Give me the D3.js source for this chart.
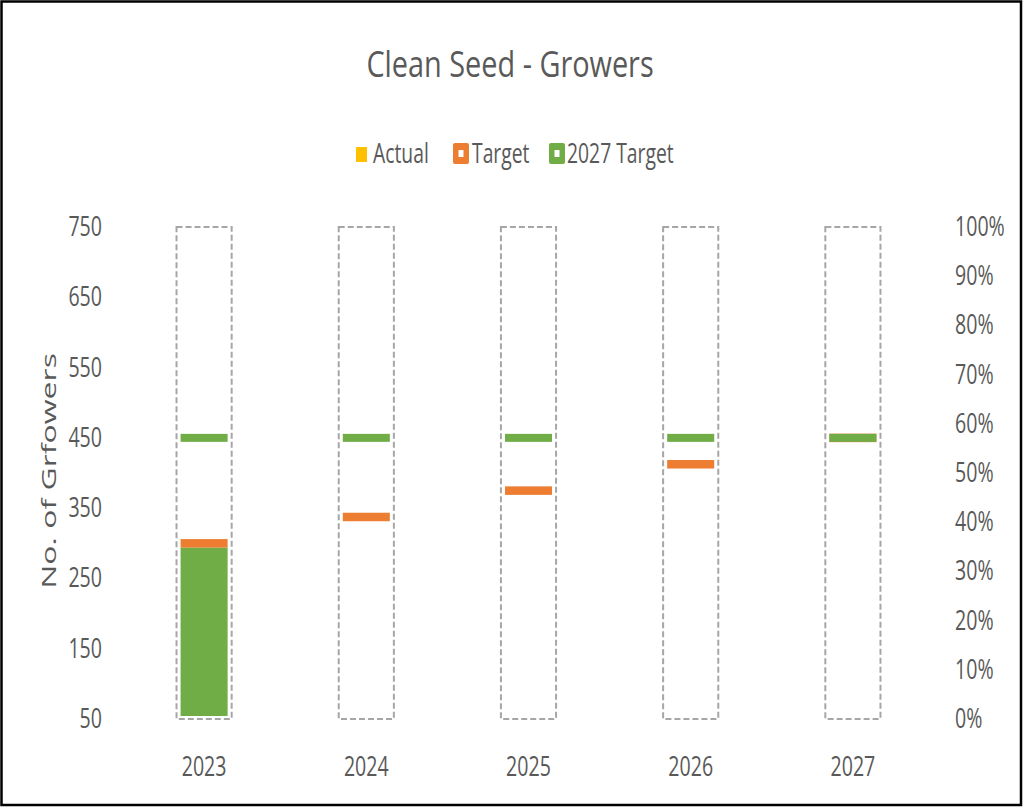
<!DOCTYPE html>
<html>
<head>
<meta charset="utf-8">
<script src="https://cdn.jsdelivr.net/npm/d3@7"></script>
<style>
  html, body { margin: 0; padding: 0; background: #fff; }
  svg { display: block; }
  text { font-family: "Open Sans", sans-serif; fill: #595959; }
</style>
</head>
<body>
<svg id="chart" width="1023" height="807"></svg>
<script>
// ---- data ----
const categories = ["2023", "2024", "2025", "2026", "2027"];
const actual = [294, null, null, null, null];
const target = [300, 337.5, 375, 412.5, 450];
const target2027 = [450, 450, 450, 450, 450];
const backdrop = [1, 1, 1, 1, 1];
const leftTicks = [50, 150, 250, 350, 450, 550, 650, 750];
const rightTicks = [0, 0.1, 0.2, 0.3, 0.4, 0.5, 0.6, 0.7, 0.8, 0.9, 1.0];
const legendItems = ["Actual", "Target", "2027 Target"];
const titleText = "Clean Seed - Growers";
const yTitleText = "No. of Grfowers";

// ---- layout ----
const W = 1023, H = 807;
const SX = 0.7; // horizontal text compression
const colors = { actual: "#FFC000", actualBar: "#70AD47", target: "#ED7D31", t2027: "#70AD47" };

const svg = d3.select("#chart");

svg.append("rect").attr("x", 1.5).attr("y", 1.5).attr("width", W - 3.5).attr("height", H - 3.5)
  .attr("fill", "#fff").attr("stroke", "#000").attr("stroke-width", 2.5);

const x = d3.scaleBand().domain(categories).range([123, 934]).padding(0);
const y = d3.scaleLinear().domain([50, 750]).range([719, 227]);
const y2 = d3.scaleLinear().domain([0, 1]).range([719, 227]);

const cx = c => x(c) + x.bandwidth() / 2;
const outerHalf = x.bandwidth() * 0.17;
const innerHalf = x.bandwidth() * 0.145;

function ctext(sel, tx, ty, str, size, anchor, sx) {
  return sel.append("text")
    .attr("transform", `translate(${tx},${ty}) scale(${sx || SX},1)`)
    .attr("text-anchor", anchor || "middle")
    .attr("font-size", size)
    .text(str);
}

// title
ctext(svg, 510, 77, titleText, 37, "middle", 0.78);

// legend
const lg = svg.append("g");
const lgX = [356, 453, 549];
const lgTextX = [373, 472, 567];
lg.append("rect").attr("x", lgX[0]).attr("y", 147).attr("width", 11).attr("height", 15).attr("fill", colors.actual);
[[1, colors.target], [2, colors.t2027]].forEach(([i, col]) => {
  lg.append("rect").attr("x", lgX[i]).attr("y", 143).attr("width", 16).attr("height", 21).attr("rx", 2)
    .attr("fill", col);
  lg.append("rect").attr("x", lgX[i] + 5.5).attr("y", 150).attr("width", 5).attr("height", 7).attr("fill", "#fff");
});
legendItems.forEach((t, i) => ctext(lg, lgTextX[i], 163, t, 28, "start", 0.69));

// left axis labels
const gl = svg.append("g");
leftTicks.forEach(v => ctext(gl, 102, y(v) + 9, String(v), 28, "end", 0.7));

// right axis labels
const gr = svg.append("g");
rightTicks.forEach(v => ctext(gr, 955, y2(v) + 9, d3.format(".0%")(v), 28, "start", 0.7));

// category labels
const gx = svg.append("g");
categories.forEach(c => ctext(gx, cx(c), 776, c, 28, "middle", 0.7));

// y axis title
svg.append("text")
  .attr("transform", `translate(56,471) scale(0.6,1) rotate(-90)`)
  .attr("text-anchor", "middle")
  .attr("font-family", "DejaVu Sans, sans-serif")
  .attr("font-size", 32)
  .text(yTitleText);

// backdrop dashed boxes
svg.append("g").selectAll("rect").data(categories).join("rect")
  .attr("x", c => cx(c) - outerHalf)
  .attr("width", outerHalf * 2)
  .attr("y", (c, i) => y2(backdrop[i]))
  .attr("height", (c, i) => y2(0) - y2(backdrop[i]))
  .attr("fill", "none")
  .attr("stroke", "#A6A6A6")
  .attr("stroke-width", 2)
  .attr("stroke-dasharray", "6,3");

// actual bars
svg.append("g").selectAll("rect").data(categories.filter((c, i) => actual[i] != null)).join("rect")
  .attr("x", c => cx(c) - innerHalf)
  .attr("width", innerHalf * 2)
  .attr("y", c => y(actual[categories.indexOf(c)]))
  .attr("height", c => y(50) - y(actual[categories.indexOf(c)]) - 3)
  .attr("fill", colors.actualBar);

// target markers
svg.append("g").selectAll("rect").data(categories).join("rect")
  .attr("x", c => cx(c) - innerHalf)
  .attr("width", innerHalf * 2)
  .attr("y", (c, i) => y(target[i]) - 4.2)
  .attr("height", 8.5)
  .attr("fill", colors.target);

// 2027 target markers
svg.append("g").selectAll("rect").data(categories).join("rect")
  .attr("x", c => cx(c) - innerHalf)
  .attr("width", innerHalf * 2)
  .attr("y", (c, i) => y(target2027[i]) - 4)
  .attr("height", 8)
  .attr("fill", colors.t2027);
</script>
</body>
</html>
